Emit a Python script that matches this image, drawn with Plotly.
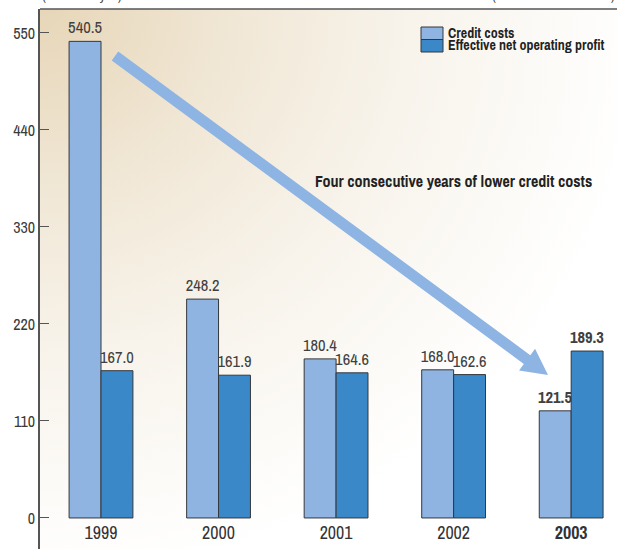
import base64
import plotly.graph_objects as go

# Fiscal years and the two series (billions of yen)
years = ["1999", "2000", "2001", "2002", "2003"]
credit_costs = [540.5, 248.2, 180.4, 168.0, 121.5]
net_operating_profit = [167.0, 161.9, 164.6, 162.6, 189.3]
y_ticks = [0, 110, 220, 330, 440, 550]

LIGHT = "#8FB4E1"
DARK = "#3A88C8"
EDGE = "#33383D"
FONT = "Archivo Narrow, Asap Condensed, Liberation Sans, sans-serif"

# figure geometry (pixels)
W, H = 617, 549
ML, MR, MT, MB = 40, 0, 9, 0
PW, PH = W - ML - MR, H - MT - MB


def px_to_paper(x, y):
    return (x - ML) / PW, (H - MB - y) / PH


def fmt(v, bold):
    s = f"{v:.1f}"
    return f"<b>{s}</b>" if bold else s


last = len(years) - 1
xs = list(range(len(years)))

fig = go.Figure()
for vals, name, col in [(credit_costs, "Credit costs", LIGHT),
                        (net_operating_profit, "Effective net operating profit", DARK)]:
    fig.add_trace(go.Bar(
        x=xs, y=vals, name=name,
        marker=dict(color=col, line=dict(color=EDGE, width=1)),
        text=[fmt(v, i == last) for i, v in enumerate(vals)],
        textposition="outside", constraintext="none", cliponaxis=False,
        textfont=dict(family=FONT, size=16.5, color="#404040"),
        showlegend=False,
    ))

# soft warm background fading from the top-left corner
svg = (
    '<svg xmlns="http://www.w3.org/2000/svg" width="577" height="540" '
    'preserveAspectRatio="none" viewBox="0 0 577 540">'
    '<defs><radialGradient id="g" cx="0" cy="0" r="1.05" gradientUnits="objectBoundingBox">'
    '<stop offset="0" stop-color="#E7D6B8"/>'
    '<stop offset="0.3" stop-color="#F0E6D4"/>'
    '<stop offset="0.62" stop-color="#F8F4EC"/>'
    '<stop offset="1" stop-color="#FFFFFF"/>'
    '</radialGradient></defs>'
    '<rect width="577" height="540" fill="url(#g)"/></svg>'
)
bg_uri = "data:image/svg+xml;base64," + base64.b64encode(svg.encode()).decode()
fig.add_layout_image(dict(
    source=bg_uri, xref="paper", yref="paper", x=0, y=1, sizex=1, sizey=1,
    xanchor="left", yanchor="top", sizing="stretch", layer="below",
))

# big diagonal arrow
sx, sy = 115, 56
tx, ty = 548, 375
dx, dy = tx - sx, ty - sy
L = (dx ** 2 + dy ** 2) ** 0.5
ux, uy = dx / L, dy / L
nx, ny = -uy, ux
head_len, head_w, shaft_w = 26, 13.5, 5.5
bx, by = tx - head_len * ux, ty - head_len * uy
pts = [
    (sx + shaft_w * nx, sy + shaft_w * ny),
    (bx + shaft_w * nx, by + shaft_w * ny),
    (bx + head_w * nx, by + head_w * ny),
    (tx, ty),
    (bx - head_w * nx, by - head_w * ny),
    (bx - shaft_w * nx, by - shaft_w * ny),
    (sx - shaft_w * nx, sy - shaft_w * ny),
]
pp = [px_to_paper(x, y) for x, y in pts]
path = "M " + " L ".join(f"{x:.5f},{y:.5f}" for x, y in pp) + " Z"
fig.add_shape(type="path", path=path, xref="paper", yref="paper",
              fillcolor="#8DB4E2", line=dict(width=0), layer="above")

# frame line along the top
fig.add_shape(type="line", xref="paper", yref="paper", x0=0, x1=1, y0=1, y1=1,
              line=dict(color="#555555", width=1.5))

# legend drawn as swatches with labels
legend_items = [("Credit costs", LIGHT), ("Effective net operating profit", DARK)]
for i, (label, col) in enumerate(legend_items):
    top = 27 + i * 12.5
    x0, y0 = px_to_paper(421, top)
    x1, y1 = px_to_paper(443, top + 12.5)
    fig.add_shape(type="rect", xref="paper", yref="paper", x0=x0, x1=x1, y0=y1, y1=y0,
                  fillcolor=col, line=dict(color=EDGE, width=1))
    ax, ay = px_to_paper(446, top + 6)
    fig.add_annotation(xref="paper", yref="paper", x=ax, y=ay, xanchor="left",
                       yanchor="middle", showarrow=False, text=f"<b>{label}</b>",
                       font=dict(family=FONT, size=14, color="#222222"))

# callout text
cx, cy = px_to_paper(313, 181)
fig.add_annotation(xref="paper", yref="paper", x=cx, y=cy, xanchor="left", yanchor="middle",
                   showarrow=False, text="<b>Four consecutive years of lower credit costs</b>",
                   font=dict(family=FONT, size=16, color="#222222"))

# unit and period notes at the top edge
fig.add_annotation(xref="paper", yref="paper", x=0, y=1, xanchor="left", yanchor="bottom",
                   yshift=3, showarrow=False, text="(Billions of yen)",
                   font=dict(family=FONT, size=14, color="#444444"))
fig.add_annotation(xref="paper", yref="paper", x=1, y=1, xanchor="right", yanchor="bottom",
                   yshift=3, showarrow=False, text="(Years ended March 31)",
                   font=dict(family=FONT, size=14, color="#444444"))

zero_pos = (H - MB - 518) / PH

fig.update_layout(
    width=W, height=H,
    margin=dict(l=ML, r=MR, t=MT, b=MB, pad=0),
    paper_bgcolor="white", plot_bgcolor="rgba(0,0,0,0)",
    barmode="group", bargap=0.457, bargroupgap=0,
    font=dict(family=FONT, size=16, color="#3a3a3a"),
    xaxis=dict(
        range=[-0.519, 4.39], tickvals=xs,
        ticktext=[f"<b>{y}</b>" if i == last else y for i, y in enumerate(years)],
        anchor="free", position=zero_pos, showline=False, showgrid=False,
        zeroline=False, ticks="", ticklabelstandoff=2,
        tickfont=dict(family=FONT, size=18, color="#333333"),
    ),
    yaxis=dict(
        range=[-35.2, 577.2], tickvals=y_ticks, showgrid=False, zeroline=False,
        showline=True, linecolor="#555555", linewidth=1.5,
        ticks="inside", ticklen=9, tickcolor="#555555", tickwidth=1,
        tickfont=dict(family=FONT, size=16, color="#3a3a3a"),
    ),
)

fig.write_html("out.html")
